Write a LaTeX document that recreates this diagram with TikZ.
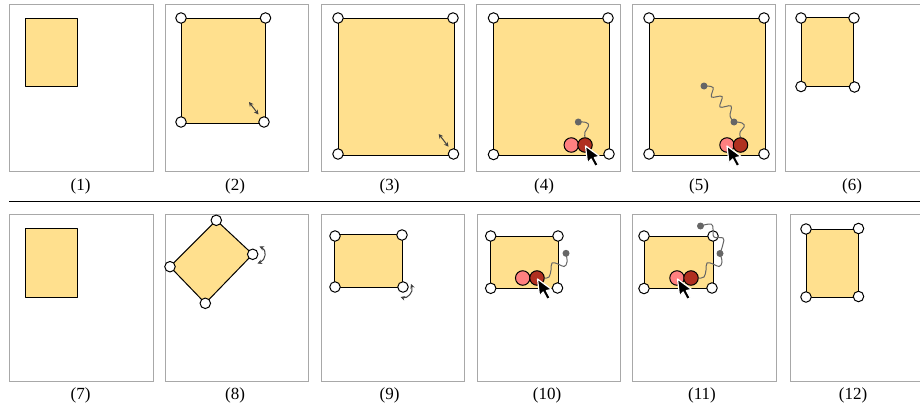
\documentclass[tikz,border=0pt]{standalone}
\usepackage{fontspec}
\setmainfont{Liberation Serif}
\usetikzlibrary{arrows.meta}
\definecolor{pagefill}{HTML}{FFE08E}
\definecolor{pinkc}{HTML}{FF8080}
\definecolor{redc}{HTML}{B03020}
\definecolor{panelc}{HTML}{A8A8A8}
\definecolor{wigc}{HTML}{666666}
\tikzset{
  x=1pt,y=-1pt,
  panel/.style={draw=panelc,line width=1pt,fill=white},
  pagebox/.style={draw=black,line width=1pt,fill=pagefill,line join=round},
  handle/.style={circle,draw=black,fill=white,line width=1pt,minimum size=10.5pt,inner sep=0pt},
  ball/.style={circle,draw=black,line width=1pt,minimum size=14.5pt,inner sep=0pt},
  pinkball/.style={ball,fill=pinkc},
  redball/.style={ball,fill=redc},
  grabdot/.style={circle,fill=wigc,minimum size=7pt,inner sep=0pt},
  wig/.style={draw=wigc,line width=1pt},
  sizing/.style={draw=black!75,line width=1pt,{Stealth[length=4.5pt,width=4.5pt]}-{Stealth[length=4.5pt,width=4.5pt]}},
  lab/.style={font=\fontsize{17}{17}\selectfont,inner sep=0pt},
  pics/cursorshape/.style={code={
    \path[draw=white,line width=1.2pt,fill=black,line join=round]
      (0,0) -- (2,17) -- (5.6,13) -- (9.6,20.5) -- (12.8,18.8) -- (8.8,11.6) -- (14,10.4) -- cycle;
  }}
}
\begin{document}
\begin{tikzpicture}
\useasboundingbox (0,0) rectangle (920,404);
\clip (0,0) rectangle (920,404);
% panels
\draw[panel] (9.5,4.5) rectangle (153,171);
\draw[panel] (165,4.5) rectangle (308.5,171);
\draw[panel] (321,4.5) rectangle (464.5,171);
\draw[panel] (476.5,4.5) rectangle (620,171);
\draw[panel] (632,4.5) rectangle (775.5,171);
\draw[panel] (785,4.5) rectangle (930,171);
\draw[panel] (9.5,214.5) rectangle (153,381);
\draw[panel] (165,214.5) rectangle (308.5,381);
\draw[panel] (321,214.5) rectangle (464.5,381);
\draw[panel] (477,214.5) rectangle (620,381);
\draw[panel] (632,214.5) rectangle (776,381);
\draw[panel] (790,214.5) rectangle (930,381);
\coordinate (sepl) at (9,201.5);
\coordinate (sepr) at (920,201.5);
\draw[line width=1pt] (sepl) -- (sepr);
% (1)
\draw[pagebox] (25,18.5) rectangle (77.5,86);
% (2)
\draw[pagebox] (181,18.5) rectangle (265.5,123.5);
\node[handle] (h2a) at (181,18) {};
\node[handle] (h2b) at (265.5,18) {};
\node[handle] (h2c) at (181,122) {};
\node[handle] (h2d) at (264,122) {};
\coordinate (s2a) at (249,102);
\coordinate (s2b) at (258.5,114.5);
\draw[sizing] (s2a) -- (s2b);
% (3)
\draw[pagebox] (338,18.5) rectangle (454,155);
\node[handle] (h3a) at (338,18) {};
\node[handle] (h3b) at (453,18) {};
\node[handle] (h3c) at (338,154) {};
\node[handle] (h3d) at (453.5,154) {};
\coordinate (s3a) at (438.7,134);
\coordinate (s3b) at (448.5,146.7);
\draw[sizing] (s3a) -- (s3b);
% (4)
\draw[pagebox] (493.7,18.5) rectangle (609.3,155);
\node[handle] (h4a) at (493.5,18) {};
\node[handle] (h4b) at (608,18) {};
\node[handle] (h4c) at (493.5,154.5) {};
\node[handle] (h4d) at (609,154) {};
\node[pinkball] (c4p) at (571.3,145) {};
\node[redball] (c4r) at (585,145) {};
\node[grabdot] (d4) at (578.3,122) {};
\draw[wig] plot[smooth,tension=0.8] coordinates {(d4) (586,122.5) (588.5,126) (585,132) (c4r.north)};
\pic at (585.5,146) {cursorshape};
% (5)
\draw[pagebox] (649,18.5) rectangle (765,155);
\node[handle] (h5a) at (649,18) {};
\node[handle] (h5b) at (764,18) {};
\node[handle] (h5c) at (649,154) {};
\node[handle] (h5d) at (764,154) {};
\node[pinkball] (c5p) at (727,145) {};
\node[redball] (c5r) at (740.5,145) {};
\node[grabdot] (d5a) at (704,86) {};
\node[grabdot] (d5b) at (734,122) {};
\draw[wig] plot[smooth,tension=0.6] coordinates {(d5a) (713,87.5) (711.5,97) (722,96.5) (720,107) (731,106) (730,116) (d5b)};
\draw[wig] plot[smooth,tension=0.8] coordinates {(d5b) (742,123) (744,127) (740,132) (c5r.north)};
\pic at (727,146) {cursorshape};
% (6)
\draw[pagebox] (801,18) rectangle (853.5,86);
\node[handle] (h6a) at (801,18) {};
\node[handle] (h6b) at (854,18) {};
\node[handle] (h6c) at (801,86.5) {};
\node[handle] (h6d) at (854.5,87) {};
% (7)
\draw[pagebox] (25,228.5) rectangle (77.5,297);
% (8)
\coordinate (r8a) at (216.3,220.3);
\coordinate (r8b) at (252.7,254.3);
\coordinate (r8c) at (205.3,303.3);
\coordinate (r8d) at (170,266.7);
\draw[pagebox] (r8a) -- (r8b) -- (r8c) -- (r8d) -- cycle;
\node[handle] (h8a) at (r8a) {};
\node[handle] (h8b) at (r8b) {};
\node[handle] (h8c) at (r8c) {};
\node[handle] (h8d) at (r8d) {};
\coordinate (s8a) at (259.5,246.5);
\coordinate (s8b) at (257.5,263.5);
\draw[sizing] (s8a) .. controls (267,250) and (266,260) .. (s8b);
% (9)
\draw[pagebox] (334,234.5) rectangle (402.3,287);
\node[handle] (h9a) at (335,236) {};
\node[handle] (h9b) at (402,235) {};
\node[handle] (h9c) at (335,287) {};
\node[handle] (h9d) at (403,287) {};
\coordinate (s9a) at (411,284);
\coordinate (s9b) at (400.5,297);
\draw[sizing] (s9a) .. controls (414,292) and (407,299) .. (s9b);
% (10)
\draw[pagebox] (490,236) rectangle (558.3,288.3);
\node[handle] (h10a) at (490.7,236) {};
\node[handle] (h10b) at (558,236) {};
\node[handle] (h10c) at (490.7,288.3) {};
\node[handle] (h10d) at (557.5,288) {};
\node[pinkball] (c10p) at (522.7,278) {};
\node[redball] (c10r) at (537,278) {};
\node[grabdot] (d10) at (566,253.3) {};
\draw[wig] plot[smooth,tension=0.7] coordinates {(c10r.east) (549,277) (551,270) (552,263) (558,264) (564,266.5) (567,262) (d10)};
\pic at (537.5,279) {cursorshape};
% (11)
\draw[pagebox] (644.3,236) rectangle (713,288.5);
\node[handle] (h11a) at (644,236) {};
\node[handle] (h11b) at (713,236) {};
\node[handle] (h11c) at (644,288.5) {};
\node[handle] (h11d) at (712,288) {};
\node[pinkball] (c11p) at (677,278) {};
\node[redball] (c11r) at (691,278) {};
\node[grabdot] (d11a) at (700.5,226) {};
\node[grabdot] (d11b) at (720,253.5) {};
\draw[wig] plot[smooth,tension=0.7] coordinates {(c11r.east) (704,277) (706,270) (707,263) (713,264) (719,266.5) (722,262) (d11b)};
\draw[wig] plot[smooth,tension=0.7] coordinates {(d11b) (723,244) (723,238) (714,237) (713,229) (711,224) (d11a)};
\pic at (677.5,279) {cursorshape};
% (12)
\draw[pagebox] (806,229) rectangle (858.5,297);
\node[handle] (h12a) at (806,229) {};
\node[handle] (h12b) at (858.5,228.5) {};
\node[handle] (h12c) at (806,297) {};
\node[handle] (h12d) at (858.5,296.5) {};
% labels
\node[lab] (l1) at (80.5,186) {(1)};
\node[lab] (l2) at (235,186) {(2)};
\node[lab] (l3) at (389.5,186) {(3)};
\node[lab] (l4) at (544,186) {(4)};
\node[lab] (l5) at (699,186) {(5)};
\node[lab] (l6) at (852,186) {(6)};
\node[lab] (l7) at (80.5,395) {(7)};
\node[lab] (l8) at (235,395) {(8)};
\node[lab] (l9) at (389.5,395) {(9)};
\node[lab] (l10) at (547,395) {(10)};
\node[lab] (l11) at (702,395) {(11)};
\node[lab] (l12) at (853,395) {(12)};
\end{tikzpicture}
\end{document}
